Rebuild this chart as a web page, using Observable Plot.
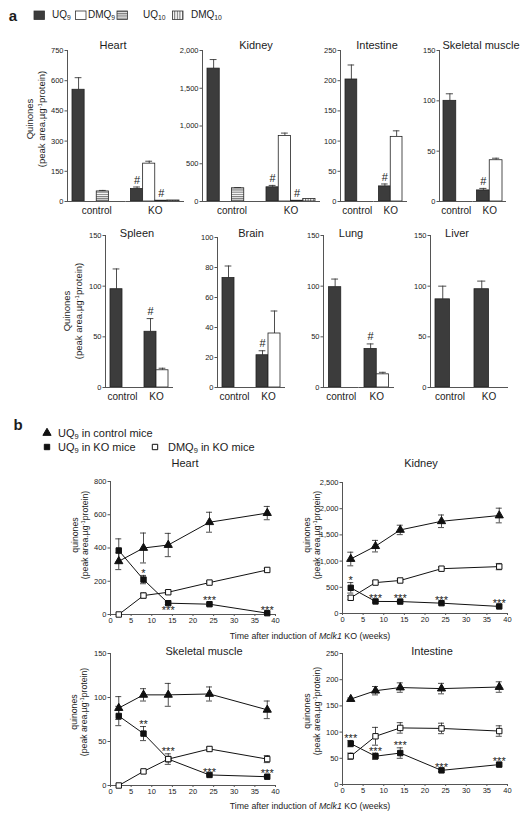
<!DOCTYPE html>
<html>
<head>
<meta charset="utf-8">
<script src="https://cdn.jsdelivr.net/npm/d3@7"></script>
<script src="https://cdn.jsdelivr.net/npm/@observablehq/plot@0.6"></script>
<style>
  body { margin: 0; background: #fff; }
  #root { position: relative; width: 529px; height: 820px; overflow: hidden;
          font-family: "Liberation Sans", Arial, Helvetica, sans-serif; color: #1c1c1c; background: #fff; }
  .lbl { position: absolute; white-space: nowrap; line-height: 1; }
  .ytitle { position: absolute; white-space: nowrap; text-align: center; }
  sub { font-size: 0.68em; vertical-align: -0.3em; line-height: 0; }
  sup { font-size: 0.65em; vertical-align: 0.45em; line-height: 0; }
</style>
</head>
<body>
<svg width="0" height="0" style="position:absolute">
  <defs>
    <pattern id="hstripe" width="4" height="2.2" patternUnits="userSpaceOnUse">
      <rect width="4" height="2.2" fill="#fff"/>
      <line x1="0" x2="4" y1="0.6" y2="0.6" stroke="#555" stroke-width="0.9"/>
    </pattern>
    <pattern id="vstripe" width="2.6" height="4" patternUnits="userSpaceOnUse">
      <rect width="2.6" height="4" fill="#fff"/>
      <line x1="0.6" x2="0.6" y1="0" y2="4" stroke="#555" stroke-width="0.9"/>
    </pattern>
  </defs>
</svg>
<div id="root"></div>
<script>
// ---------------- DATA: panel a (bar charts) ----------------
const barGroups = ["control", "KO"];
const barSeries = ["UQ9", "DMQ9", "UQ10", "DMQ10"];
const barSeries2 = ["UQ9", "DMQ9"];
const barFills = ["#3c3c3c", "#ffffff", "url(#hstripe)", "url(#vstripe)"];

// rows: [control], [KO]; columns follow the series list of the panel
const heartMean = [[555, 0, 50, 0], [62, 188, 4, 5]];
const heartSem  = [[60, 0, 5, 0], [10, 12, 0, 0]];
const heartSig  = [["", "", "", ""], ["#", "", "#", ""]];
const heartTicks = [0, 150, 300, 450, 600, 750];

const kidneyMean = [[1760, 0, 175, 0], [188, 868, 10, 32]];
const kidneySem  = [[120, 0, 10, 0], [25, 38, 0, 0]];
const kidneySig  = [["", "", "", ""], ["#", "", "#", ""]];
const kidneyTicks = [0, 500, 1000, 1500, 2000];

const intestineMean = [[202, 0], [25, 107]];
const intestineSem  = [[24, 0], [4, 10]];
const intestineSig  = [["", ""], ["#", ""]];
const intestineTicks = [0, 50, 100, 150, 200, 250];

const muscleMean = [[100, 0], [11, 41]];
const muscleSem  = [[7, 0], [2, 2]];
const muscleSig  = [["", ""], ["#", ""]];
const muscleTicks = [0, 50, 100, 150];

const spleenMean = [[97, 0], [55, 17]];
const spleenSem  = [[20, 0], [13, 2]];
const spleenSig  = [["", ""], ["#", ""]];
const spleenTicks = [0, 50, 100, 150];

const brainMean = [[73, 0], [21.5, 36]];
const brainSem  = [[8, 0], [3, 15]];
const brainSig  = [["", ""], ["#", ""]];
const brainTicks = [0, 20, 40, 60, 80, 100];

const lungMean = [[99, 0], [38, 13]];
const lungSem  = [[8, 0], [5, 2]];
const lungSig  = [["", ""], ["#", ""]];
const lungTicks = [0, 50, 100, 150];

const liverMean = [[87, 0], [97, 0]];
const liverSem  = [[13, 0], [8, 0]];
const liverSig  = [["", ""], ["", ""]];
const liverTicks = [0, 50, 100, 150];

// ---------------- DATA: panel b (time courses) ----------------
const weeks = [2, 8, 14, 24, 38];
const lineSeries = ["UQ9 control", "UQ9 KO", "DMQ9 KO"];
const weekTicks = [0, 5, 10, 15, 20, 25, 30, 35, 40];

const heartCtrlUQ9 = [320, 400, 418, 555, 610];
const heartCtrlUQ9Err = [50, 90, 70, 60, 40];
const heartKOUQ9 = [385, 210, 68, 62, 8];
const heartKOUQ9Err = [70, 25, 8, 8, 3];
const heartKODMQ9 = [0, 114, 134, 192, 268];
const heartKODMQ9Err = [0, 15, 10, 8, 10];
const heartStars = ["", "*", "***", "***", "***"];
const heartStarSide = ["", "above", "below", "above", "above"];
const heartBTicks = [0, 200, 400, 600, 800];

const kidneyCtrlUQ9 = [1040, 1285, 1595, 1760, 1870];
const kidneyCtrlUQ9Err = [130, 110, 90, 120, 140];
const kidneyKOUQ9 = [490, 230, 228, 197, 135];
const kidneyKOUQ9Err = [100, 15, 15, 15, 15];
const kidneyKODMQ9 = [300, 590, 630, 855, 895];
const kidneyKODMQ9Err = [40, 30, 30, 30, 60];
const kidneyStars = ["*", "***", "***", "***", "***"];
const kidneyStarSide = ["above", "above", "above", "above", "above"];
const kidneyBTicks = [0, 500, 1000, 1500, 2000, 2500];

const muscleCtrlUQ9 = [88, 103, 103, 104, 86];
const muscleCtrlUQ9Err = [13, 7, 13, 8, 10];
const muscleKOUQ9 = [79, 59, 30, 12, 10];
const muscleKOUQ9Err = [11, 8, 6, 1, 1];
const muscleKODMQ9 = [0, 16, 30, 41.5, 30];
const muscleKODMQ9Err = [0, 1, 2, 2, 4];
const muscleStars = ["", "**", "***", "***", "***"];
const muscleStarSide = ["", "above", "above", "above", "above"];
const muscleBTicks = [0, 50, 100, 150];

const intestineCtrlUQ9 = [163, 179, 185, 183, 186];
const intestineCtrlUQ9Err = [2, 8, 9, 10, 10];
const intestineKOUQ9 = [78, 54, 60, 27, 38];
const intestineKOUQ9Err = [6, 6, 10, 2, 3];
const intestineKODMQ9 = [54, 92, 108, 107, 102];
const intestineKODMQ9Err = [6, 17, 10, 10, 10];
const intestineStars = ["***", "***", "***", "***", "***"];
const intestineStarSide = ["above", "above", "above", "above", "above"];
const intestineBTicks = [0, 50, 100, 150, 200, 250];

// ---------------- helpers ----------------
const FONT = '"Liberation Sans", Arial, Helvetica, sans-serif';
const AXIS = "#555";
const root = document.getElementById("root");

function put(node, left, top) {
  node.style.position = "absolute";
  node.style.left = left + "px";
  node.style.top = top + "px";
  root.appendChild(node);
  return node;
}
function label(html, x, y, opts = {}) {
  const d = document.createElement("div");
  d.className = "lbl";
  d.innerHTML = html;
  d.style.fontSize = (opts.size || 11) + "px";
  if (opts.weight) d.style.fontWeight = opts.weight;
  d.style.transform = opts.anchor === "start" ? "translate(0,-50%)" : "translate(-50%,-50%)";
  return put(d, x, y);
}
function ytitle(lines, cx, cy, size, lh) {
  const d = document.createElement("div");
  d.className = "ytitle";
  d.innerHTML = lines.join("<br>");
  d.style.fontSize = size + "px";
  d.style.lineHeight = lh + "px";
  d.style.transform = "translate(-50%,-50%) rotate(-90deg)";
  return put(d, cx, cy);
}

function barPanel({mean, sem, sig, series, ticks, fmt, x0, x1, yTop, yBot, pad}) {
  const rows = [];
  barGroups.forEach((g, gi) => series.forEach((s, si) => {
    rows.push({group: g, series: s, value: mean[gi][si], sem: sem[gi][si], sig: sig[gi][si]});
  }));
  const bars = rows.filter(d => d.value > 0);
  const errs = bars.filter(d => d.sem > 0);
  const marked = bars.filter(d => d.sig);
  const mL = 34, mR = 4, mT = 8, mB = 26;
  const W = x1 - x0, H = yBot - yTop;
  const stepPx = (W / 2 - 2 * pad) / series.length;
  const capInset = stepPx * 0.22;
  const node = Plot.plot({
    width: W + mL + mR, height: H + mT + mB,
    marginLeft: mL, marginRight: mR, marginTop: mT, marginBottom: mB,
    style: {fontFamily: FONT, fontSize: "7.5px", color: "#222", background: "none", overflow: "visible"},
    fx: {domain: barGroups, padding: 0, round: false},
    x: {domain: series, paddingInner: 0, paddingOuter: pad / stepPx, round: false, axis: null},
    y: {domain: [0, ticks[ticks.length - 1]]},
    color: {domain: barSeries, range: barFills},
    marks: [
      Plot.ruleX(errs, {fx: "group", x: "series", y1: "value", y2: d => d.value + d.sem, stroke: "#3a3a3a", strokeWidth: 0.9}),
      Plot.tickY(errs, {fx: "group", x: "series", y: d => d.value + d.sem, insetLeft: capInset, insetRight: capInset, stroke: "#3a3a3a", strokeWidth: 0.9}),
      Plot.barY(bars, {fx: "group", x: "series", y: "value", fill: "series", stroke: "#222", strokeWidth: 0.8}),
      Plot.text(marked, {fx: "group", x: "series", y: d => d.value + d.sem, text: "sig", dy: -7, fontSize: 11, fill: "#222"}),
      Plot.ruleY([0], {stroke: AXIS, strokeWidth: 1}),
      Plot.frame({anchor: "left", facetAnchor: "left", stroke: AXIS, strokeWidth: 1}),
      Plot.axisY({ticks, tickFormat: fmt || (d => d), tickSize: 2.5, tickPadding: 1.5, stroke: AXIS, fontSize: 7.5, label: null}),
      Plot.axisFx({anchor: "bottom", tickSize: 0, tickPadding: 5, fontSize: 10, label: null})
    ]
  });
  put(node, x0 - mL, yTop - mT);
}

function linePanel({ctrl, ctrlErr, ko, koErr, dmq, dmqErr, stars, side, ticks, fmt, x0, x1, yTop, yBot}) {
  const rows = [];
  weeks.forEach((t, i) => {
    rows.push({series: "UQ9 control", t, v: ctrl[i], e: ctrlErr[i]});
    rows.push({series: "UQ9 KO", t, v: ko[i], e: koErr[i], star: stars[i], side: side[i]});
    rows.push({series: "DMQ9 KO", t, v: dmq[i], e: dmqErr[i]});
  });
  const errs = rows.filter(d => d.e > 0);
  const above = rows.filter(d => d.star && d.side === "above");
  const below = rows.filter(d => d.star && d.side === "below");
  const mL = 34, mR = 8, mT = 6, mB = 20;
  const W = x1 - x0, H = yBot - yTop;
  const node = Plot.plot({
    width: W + mL + mR, height: H + mT + mB,
    marginLeft: mL, marginRight: mR, marginTop: mT, marginBottom: mB,
    style: {fontFamily: FONT, fontSize: "7.5px", color: "#222", background: "none", overflow: "visible"},
    x: {domain: [0, 40]},
    y: {domain: [0, ticks[ticks.length - 1]]},
    symbol: {domain: lineSeries, range: ["triangle", "square", "square"]},
    color: {domain: lineSeries, range: ["#111", "#111", "#fff"]},
    marks: [
      Plot.ruleY([0], {stroke: AXIS, strokeWidth: 1}),
      Plot.ruleX([0], {stroke: AXIS, strokeWidth: 1}),
      Plot.axisX({ticks: weekTicks, tickSize: 2, tickPadding: 1.5, stroke: AXIS, fontSize: 7.5, label: null}),
      Plot.axisY({ticks, tickFormat: fmt || (d => d), tickSize: 2.5, tickPadding: 1.5, stroke: AXIS, fontSize: 7.5, label: null}),
      Plot.line(rows, {x: "t", y: "v", z: "series", stroke: "#111", strokeWidth: 1}),
      Plot.ruleX(errs, {x: "t", y1: d => d.v - d.e, y2: d => d.v + d.e, stroke: "#222", strokeWidth: 0.8}),
      Plot.ruleY(errs, {y: d => d.v + d.e, x1: "t", x2: "t", insetLeft: -3, insetRight: -3, stroke: "#222", strokeWidth: 0.8}),
      Plot.ruleY(errs, {y: d => d.v - d.e, x1: "t", x2: "t", insetLeft: -3, insetRight: -3, stroke: "#222", strokeWidth: 0.8}),
      Plot.dot(rows, {x: "t", y: "v", symbol: "series", fill: "series", stroke: "#111", strokeWidth: 1, r: 3.05}),
      Plot.text(above, {x: "t", y: d => d.v + d.e, text: "star", dy: -2, fontSize: 11, fill: "#222"}),
      Plot.text(below, {x: "t", y: d => d.v - d.e, text: "star", dy: 5.5, fontSize: 11, fill: "#222"})
    ]
  });
  put(node, x0 - mL, yTop - mT);
}

// ---------------- panel a ----------------
label("a", 13, 15, {size: 15, weight: "bold"});
{
  const ns = "http://www.w3.org/2000/svg";
  const sw = document.createElementNS(ns, "svg");
  sw.setAttribute("width", 529); sw.setAttribute("height", 30);
  const sws = [[34, barFills[0]], [75.5, barFills[1]], [117, barFills[2]], [172.5, barFills[3]]];
  sws.forEach(([x, f]) => {
    const r = document.createElementNS(ns, "rect");
    r.setAttribute("x", x); r.setAttribute("y", 11); r.setAttribute("width", 10.5); r.setAttribute("height", 8.5);
    r.setAttribute("fill", f); r.setAttribute("stroke", "#333"); r.setAttribute("stroke-width", 0.8);
    sw.appendChild(r);
  });
  put(sw, 0, 0);
}
label("UQ<sub>9</sub>", 52, 15, {anchor: "start", size: 10});
label("DMQ<sub>9</sub>", 88, 15, {anchor: "start", size: 10});
label("UQ<sub>10</sub>", 143, 15, {anchor: "start", size: 10});
label("DMQ<sub>10</sub>", 191, 15, {anchor: "start", size: 10});

barPanel({mean: heartMean, sem: heartSem, sig: heartSig, series: barSeries, ticks: heartTicks, x0: 67, x1: 184, yTop: 50, yBot: 201, pad: 5});
barPanel({mean: kidneyMean, sem: kidneySem, sig: kidneySig, series: barSeries, ticks: kidneyTicks, fmt: d3.format(","), x0: 202, x1: 320, yTop: 50, yBot: 201, pad: 5});
barPanel({mean: intestineMean, sem: intestineSem, sig: intestineSig, series: barSeries2, ticks: intestineTicks, x0: 340, x1: 407, yTop: 50, yBot: 201, pad: 5});
barPanel({mean: muscleMean, sem: muscleSem, sig: muscleSig, series: barSeries2, ticks: muscleTicks, x0: 439, x1: 506, yTop: 50, yBot: 201, pad: 4});
barPanel({mean: spleenMean, sem: spleenSem, sig: spleenSig, series: barSeries2, ticks: spleenTicks, x0: 105, x1: 173, yTop: 235, yBot: 387, pad: 5});
barPanel({mean: brainMean, sem: brainSem, sig: brainSig, series: barSeries2, ticks: brainTicks, x0: 217, x1: 285, yTop: 237, yBot: 387, pad: 5});
barPanel({mean: lungMean, sem: lungSem, sig: lungSig, series: barSeries2, ticks: lungTicks, x0: 323, x1: 394, yTop: 235, yBot: 387, pad: 5.5});
barPanel({mean: liverMean, sem: liverSem, sig: liverSig, series: barSeries2, ticks: liverTicks, x0: 430, x1: 508, yTop: 235, yBot: 387, pad: 5});

label("Heart", 113, 45);
label("Kidney", 256, 45);
label("Intestine", 377, 45);
label("Skeletal muscle", 481, 45);
label("Spleen", 137, 233);
label("Brain", 251, 233);
label("Lung", 351, 233);
label("Liver", 457, 233);

ytitle(["Quinones", "(peak area.µg<sup>-1</sup>protein)"], 36, 119, 9.5, 12);
ytitle(["Quinones", "(peak area.µg<sup>-1</sup>protein)"], 73, 311, 9.5, 12);

// ---------------- panel b ----------------
label("b", 18, 424, {size: 15, weight: "bold"});
{
  const ns = "http://www.w3.org/2000/svg";
  const sv = document.createElementNS(ns, "svg");
  sv.setAttribute("width", 529); sv.setAttribute("height", 40);
  const shapes = [[47, 11, d3.symbolTriangle, "#111"], [47, 25, d3.symbolSquare, "#111"], [155, 25, d3.symbolSquare, "#fff"]];
  shapes.forEach(([x, y, type, fill]) => {
    const p = document.createElementNS(ns, "path");
    p.setAttribute("d", d3.symbol(type, Math.PI * 3.05 * 3.05)());
    p.setAttribute("transform", `translate(${x},${y})`);
    p.setAttribute("fill", fill); p.setAttribute("stroke", "#111"); p.setAttribute("stroke-width", 1);
    sv.appendChild(p);
  });
  put(sv, 0, 422);
}
label("UQ<sub>9</sub> in control mice", 58, 433, {anchor: "start"});
label("UQ<sub>9</sub> in KO mice", 58, 447, {anchor: "start"});
label("DMQ<sub>9</sub> in KO mice", 168, 447, {anchor: "start"});

linePanel({ctrl: heartCtrlUQ9, ctrlErr: heartCtrlUQ9Err, ko: heartKOUQ9, koErr: heartKOUQ9Err, dmq: heartKODMQ9, dmqErr: heartKODMQ9Err,
  stars: heartStars, side: heartStarSide, ticks: heartBTicks, x0: 110, x1: 275, yTop: 481, yBot: 614});
linePanel({ctrl: kidneyCtrlUQ9, ctrlErr: kidneyCtrlUQ9Err, ko: kidneyKOUQ9, koErr: kidneyKOUQ9Err, dmq: kidneyKODMQ9, dmqErr: kidneyKODMQ9Err,
  stars: kidneyStars, side: kidneyStarSide, ticks: kidneyBTicks, fmt: d3.format(","), x0: 342, x1: 507, yTop: 482, yBot: 613});
linePanel({ctrl: muscleCtrlUQ9, ctrlErr: muscleCtrlUQ9Err, ko: muscleKOUQ9, koErr: muscleKOUQ9Err, dmq: muscleKODMQ9, dmqErr: muscleKODMQ9Err,
  stars: muscleStars, side: muscleStarSide, ticks: muscleBTicks, x0: 110, x1: 275, yTop: 653, yBot: 785});
linePanel({ctrl: intestineCtrlUQ9, ctrlErr: intestineCtrlUQ9Err, ko: intestineKOUQ9, koErr: intestineKOUQ9Err, dmq: intestineKODMQ9, dmqErr: intestineKODMQ9Err,
  stars: intestineStars, side: intestineStarSide, ticks: intestineBTicks, x0: 342, x1: 507, yTop: 653, yBot: 784});

label("Heart", 185, 463);
label("Kidney", 421, 463);
label("Skeletal muscle", 204, 651);
label("Intestine", 432, 651);

ytitle(["quinones", "(peak area.µg<sup>-1</sup>protein)"], 79.5, 535, 8.7, 10);
ytitle(["quinones", "(peak area.µg<sup>-1</sup>protein)"], 312, 535, 8.7, 10);
ytitle(["quinones", "(peak area.µg<sup>-1</sup>protein)"], 79, 712, 8.7, 10);
ytitle(["quinones", "(peak area.µg<sup>-1</sup>protein)"], 312, 711, 8.7, 10);

label("Time after induction of <i>Mclk1</i> KO (weeks)", 310, 636, {size: 8.8});
label("Time after induction of <i>Mclk1</i> KO (weeks)", 310, 806, {size: 8.8});
</script>
</body>
</html>
